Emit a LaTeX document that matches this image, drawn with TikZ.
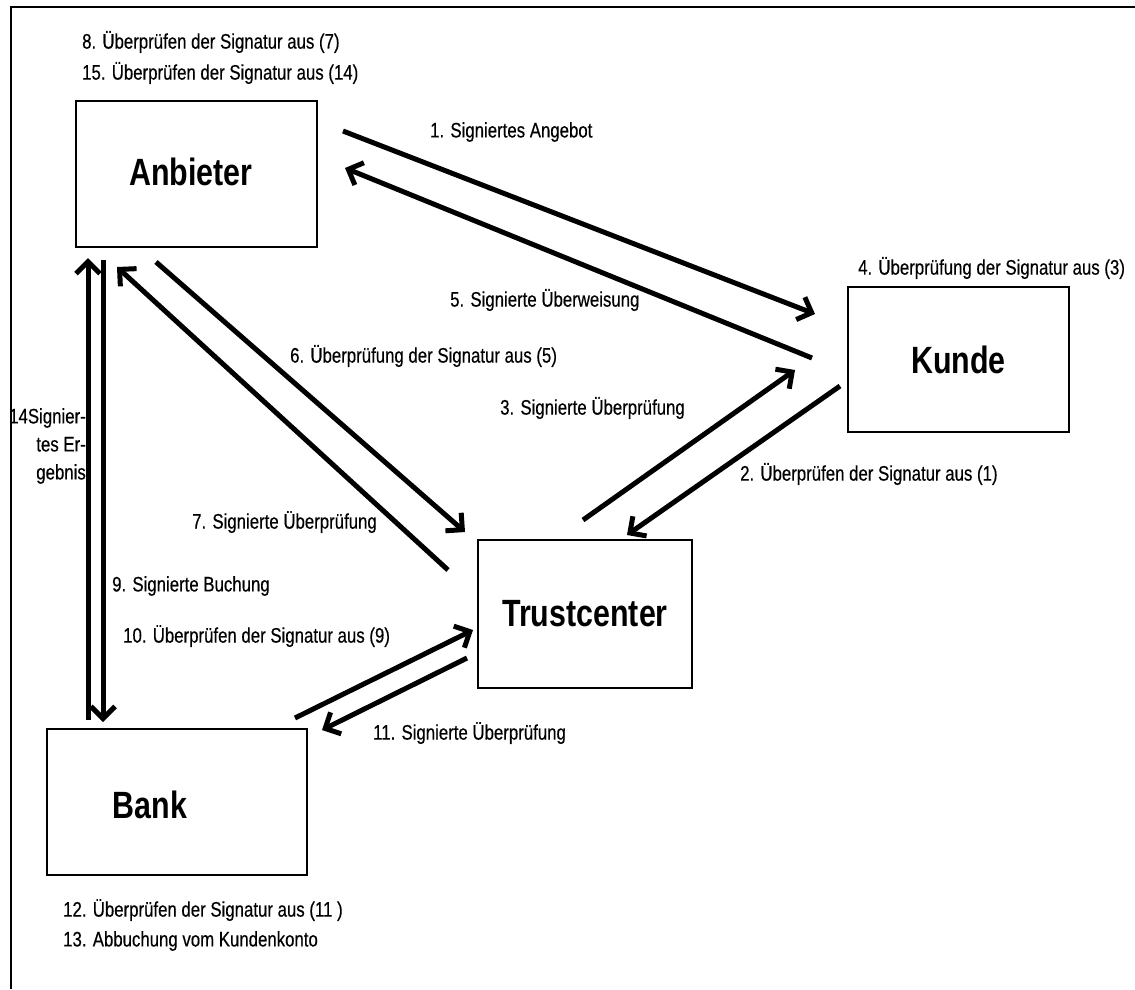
\documentclass[tikz,border=0pt]{standalone}
\usepackage{fontspec}
\setmainfont{Liberation Sans}[FakeStretch=0.8]
\newfontfamily\lblfont{Liberation Sans}[FakeStretch=0.8, FakeBold=0.4]
\usetikzlibrary{arrows.meta}
\begin{document}
\begin{tikzpicture}[x=1pt,y=-1pt,
  box/.style={draw, line width=1.2pt, inner sep=0pt},
  boxtxt/.style={font=\fontsize{38}{40}\selectfont\bfseries, inner sep=0pt},
  lbl/.style={font=\lblfont\fontsize{21}{28}\selectfont, anchor=west, inner sep=0pt},
  arr/.style={line width=5pt, -{Straight Barb[length=12pt,width=24pt]}},
  frameline/.style={line width=2.5pt}]
\useasboundingbox (0,0) rectangle (1135,989);
\draw[frameline] (1135,7) -- (11,7) -- (11,989);

% boxes
\node[box, minimum width=241pt, minimum height=146pt] (anb) at (196.5,174) {};
\node[boxtxt] (anbt) at (191,172) {Anbieter};
\node[box, boxtxt, minimum width=221pt, minimum height=145pt] (kun) at (958.5,359.5) {Kunde};
\node[box, boxtxt, minimum width=214pt, minimum height=148pt] (tc) at (585,614) {Trustcenter};
\node[box, minimum width=260pt, minimum height=146pt] (bank) at (177,802) {};
\node[boxtxt] (bankt) at (150,805) {Bank};

% connector end points
\coordinate (a1s) at (343,131);  \coordinate (a1e) at (815,314);
\coordinate (a5s) at (812,358);  \coordinate (a5e) at (345,168);
\coordinate (a6s) at (156,262);  \coordinate (a6e) at (465,532);
\coordinate (a7s) at (448,570);  \coordinate (a7e) at (117,267);
\coordinate (a3s) at (583,520);  \coordinate (a3e) at (795,370);
\coordinate (a2s) at (840,386);  \coordinate (a2e) at (627,535);
\coordinate (a14s) at (88,720);  \coordinate (a14e) at (88,258);
\coordinate (a9s) at (103,260);  \coordinate (a9e) at (103,722);
\coordinate (a10s) at (295,718); \coordinate (a10e) at (473,630);
\coordinate (a11s) at (467,658); \coordinate (a11e) at (322,730);

\draw[arr] (a1s) -- (a1e);
\draw[arr] (a5s) -- (a5e);
\draw[arr] (a6s) -- (a6e);
\draw[arr] (a7s) -- (a7e);
\draw[arr] (a3s) -- (a3e);
\draw[arr] (a2s) -- (a2e);
\draw[arr] (a14s) -- (a14e);
\draw[arr] (a9s) -- (a9e);
\draw[arr] (a10s) -- (a10e);
\draw[arr] (a11s) -- (a11e);

% labels
\node[lbl] (l8) at (82,42) {8. Überprüfen der Signatur aus (7)};
\node[lbl] (l15) at (82,73) {15. Überprüfen der Signatur aus (14)};
\node[lbl] (l1) at (430,132) {1. Signiertes Angebot};
\node[lbl] (l4) at (858,268) {4. Überprüfung der Signatur aus (3)};
\node[lbl] (l5) at (450,300) {5. Signierte Überweisung};
\node[lbl] (l6) at (290,356) {6. Überprüfung der Signatur aus (5)};
\node[lbl] (l3) at (500,408) {3. Signierte Überprüfung};
\node[lbl] (l2) at (740,474) {2. Überprüfen der Signatur aus (1)};
\node[lbl] (l7) at (192,522) {7. Signierte Überprüfung};
\node[lbl] (l9) at (112,586) {9. Signierte Buchung};
\node[lbl] (l10) at (123,636) {10. Überprüfen der Signatur aus (9)};
\node[lbl] (l11) at (373,733) {11. Signierte Überprüfung};
\node[lbl] (l12) at (63,910) {12. Überprüfen der Signatur aus (11 )};
\node[lbl] (l13) at (63,941) {13. Abbuchung vom Kundenkonto};
\node[lbl, anchor=north east, align=right] (l14) at (86,408) {14Signier-\\tes Er-\\gebnis};
\end{tikzpicture}
\end{document}
